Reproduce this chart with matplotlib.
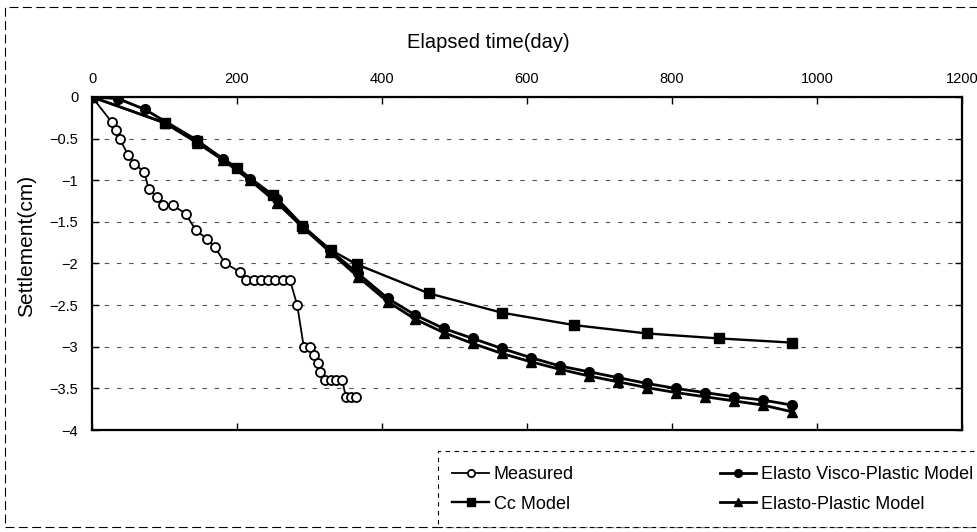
import matplotlib
matplotlib.use("Agg")
import matplotlib.pyplot as plt
from matplotlib.patches import Rectangle

plt.rcParams['font.family'] = ['Liberation Sans', 'DejaVu Sans']

"measured settlement"
meas_day = [0, 27, 33, 38, 50, 58, 72, 78, 89, 98, 111, 129, 143, 158, 169, 184, 204,
            213, 223, 233, 243, 253, 263, 273, 283, 292, 300, 306, 311, 315, 322, 330,
            337, 345, 350, 357, 364]
meas_val = [0, -0.3, -0.4, -0.5, -0.7, -0.8, -0.9, -1.1, -1.2, -1.3, -1.3, -1.4, -1.6,
            -1.7, -1.8, -2.0, -2.1, -2.2, -2.2, -2.2, -2.2, -2.2, -2.2, -2.2, -2.5,
            -3.0, -3.0, -3.1, -3.2, -3.3, -3.4, -3.4, -3.4, -3.4, -3.6, -3.6, -3.6]

"Cc model"
cc_day = [0, 100, 145, 200, 250, 290, 330, 365, 465, 565, 665, 765, 865, 965]
cc_val = [0, -0.31, -0.53, -0.85, -1.18, -1.55, -1.84, -2.01, -2.36, -2.59, -2.74,
          -2.84, -2.90, -2.95]

"elasto visco-plastic model"
evp_day = [0, 36, 73, 145, 181, 218, 255, 291, 328, 367, 408, 446, 485, 525, 565, 605,
           645, 685, 725, 765, 805, 845, 885, 925, 965]
evp_val = [0, -0.02, -0.15, -0.52, -0.75, -0.99, -1.22, -1.55, -1.84, -2.12, -2.42,
           -2.62, -2.78, -2.90, -3.02, -3.13, -3.23, -3.30, -3.37, -3.44, -3.50, -3.55,
           -3.60, -3.64, -3.70]

"elasto-plastic model"
ep_day = [0, 100, 145, 181, 218, 255, 291, 328, 367, 408, 446, 485, 525, 565, 605, 645,
          685, 725, 765, 805, 845, 885, 925, 965]
ep_val = [0, -0.31, -0.55, -0.76, -1.0, -1.27, -1.57, -1.86, -2.16, -2.46, -2.67, -2.83,
          -2.96, -3.08, -3.18, -3.27, -3.35, -3.42, -3.49, -3.55, -3.60, -3.65, -3.70,
          -3.78]

x_ticks = [0, 200, 400, 600, 800, 1000, 1200]
y_ticks = [0, -0.5, -1, -1.5, -2, -2.5, -3, -3.5, -4]

fig = plt.figure(figsize=(9.77, 5.32), dpi=100)
ax = fig.add_axes([0.0942, 0.1917, 0.8905, 0.626])

l1, = ax.plot(meas_day, meas_val, '-o', color='black', lw=1.3, ms=6.5,
              mfc='white', mec='black', mew=1.3, label='Measured')
l3, = ax.plot(ep_day, ep_val, '-^', color='black', lw=2, ms=7.5, label='Elasto-Plastic Model')
l2, = ax.plot(evp_day, evp_val, '-o', color='black', lw=2, ms=7, label='Elasto Visco-Plastic Model')
l4, = ax.plot(cc_day, cc_val, '-s', color='black', lw=1.7, ms=7, label='Cc Model')

ax.set_xlim(0, 1200)
ax.set_ylim(-4, 0)
ax.set_xticks(x_ticks)
ax.set_yticks(y_ticks)
ax.set_yticklabels(['0', '−0.5', '−1', '−1.5', '−2', '−2.5', '−3', '−3.5', '−4'])
ax.xaxis.tick_top()
ax.xaxis.set_label_position('top')
ax.tick_params(axis='both', direction='in', length=5, width=1, labelsize=10.5,
               top=True, bottom=True, left=True, right=True)
ax.tick_params(axis='x', pad=8)
ax.tick_params(axis='y', pad=10)
ax.set_xlabel('Elapsed time(day)', fontsize=14.5, va='center')
ax.xaxis.set_label_coords(0.456, 1.165)
ax.set_ylabel('Settlement(cm)', fontsize=15, va='center')
ax.yaxis.set_label_coords(-0.075, 0.553)
for s in ax.spines.values():
    s.set_linewidth(1.6)
ax.yaxis.grid(True, linestyle=(0, (4, 7)), color='#555555', lw=0.8)
ax.set_axisbelow(True)

leg = fig.legend([l1, l4, l2, l3],
                 ['Measured', 'Cc Model', 'Elasto Visco-Plastic Model', 'Elasto-Plastic Model'],
                 loc='lower left', bbox_to_anchor=(438 / 977, 5 / 532, 550 / 977, 73 / 532),
                 mode='expand', ncol=2, fontsize=13, handlelength=2.0, handletextpad=0.3,
                 borderaxespad=0, fancybox=False, edgecolor='black', framealpha=1,
                 labelspacing=0.7, borderpad=0.8, markerscale=0.8)
leg.get_frame().set_linestyle((0, (4, 4)))
leg.get_frame().set_linewidth(0.8)

"outer frame"
fig.patches.append(Rectangle((5 / 977, 5 / 532), 990 / 977, 520 / 532,
                             transform=fig.transFigure, fill=False, lw=0.8,
                             ls=(0, (8, 4)), edgecolor='black'))

fig.savefig('out.png', dpi=100)
